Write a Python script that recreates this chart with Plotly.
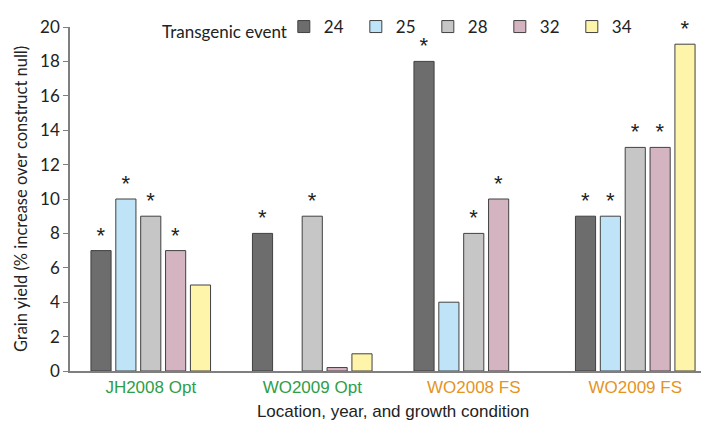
import plotly.graph_objects as go

categories = ["JH2008 Opt", "WO2009 Opt", "WO2008 FS", "WO2009 FS"]
category_colors = ["#2e9e48", "#2e9e48", "#e5941f", "#e5941f"]
events = ["24", "25", "28", "32", "34"]
values = {
    "24": [7, 8, 18, 9],
    "25": [10, None, 4, 9],
    "28": [9, 9, 8, 13],
    "32": [7, 0.2, 10, 13],
    "34": [5, 1, None, 19],
}
significant = {
    "24": [True, True, True, True],
    "25": [True, False, False, True],
    "28": [True, True, True, True],
    "32": [True, False, True, True],
    "34": [False, False, False, True],
}
bar_colors = {"24": "#6d6d6d", "25": "#bfe4f8", "28": "#c6c6c6", "32": "#d5b4c2", "34": "#fff5aa"}
y_ticks = list(range(0, 21, 2))

fig = go.Figure()
for ev in events:
    fig.add_trace(go.Bar(
        x=categories, y=values[ev], name=ev,
        marker=dict(color=bar_colors[ev], line=dict(color="#404040", width=1)),
        text=["*" if s else "" for s in significant[ev]],
        textposition="outside", cliponaxis=False,
        textfont=dict(size=22, color="#222222", family="Liberation Sans"),
    ))

ticktext = [f"<span style='color:{c}'>{t}</span>" for t, c in zip(categories, category_colors)]

fig.add_annotation(
    text="Transgenic event", xref="paper", yref="paper",
    x=0.139, xanchor="left", y=1.0, yanchor="middle", yshift=-4,
    showarrow=False, font=dict(size=17, family="Lato", color="#222"),
)

fig.update_layout(
    width=709, height=421,
    margin=dict(l=62, r=1, t=7, b=58),
    plot_bgcolor="white", paper_bgcolor="white",
    barmode="group", bargap=0.23, bargroupgap=0.19,
    showlegend=True,
    legend=dict(
        orientation="h", x=0.331, xanchor="left", y=1.0, yanchor="middle",
        font=dict(size=17, family="Lato", color="#222"),
        itemwidth=30, entrywidth=27, traceorder="normal",
        bgcolor="rgba(0,0,0,0)",
    ),
    xaxis=dict(
        tickvals=categories, ticktext=ticktext, automargin=False,
        showline=True, linecolor="#7f7f7f", linewidth=1.5, ticks="",
        tickfont=dict(size=17, family="Liberation Sans"),
        title=dict(text="Location, year, and growth condition", font=dict(size=17, family="Liberation Sans", color="#222"), standoff=9),
    ),
    yaxis=dict(
        range=[0, 20], tickvals=y_ticks, showgrid=False, zeroline=False, automargin=False,
        showline=True, linecolor="#7f7f7f", linewidth=1.5, ticks="outside", ticklen=5, tickcolor="#7f7f7f",
        tickfont=dict(size=17, family="Lato", color="#222"),
        title=dict(text="Grain yield (% increase over construct null)", font=dict(size=16.5, family="Lato", color="#222"), standoff=8),
    ),
)

fig.write_html("out.html")
